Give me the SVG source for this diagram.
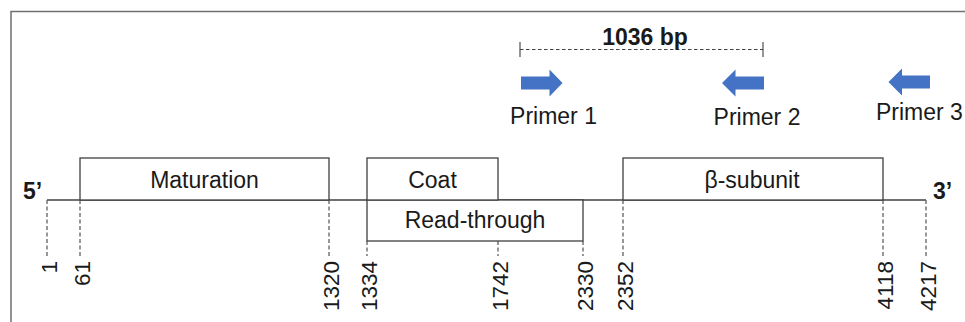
<svg xmlns="http://www.w3.org/2000/svg" width="965" height="322" viewBox="0 0 965 322">
<style>
.frame{fill:none;stroke:#707070;stroke-width:1.5}
.box{fill:#fff;stroke:#404040;stroke-width:1.3}
.base{stroke:#404040;stroke-width:1.3;fill:none}
.tick{stroke:#606060;stroke-width:1.3;stroke-dasharray:4 2.5;fill:none}
.dim{stroke:#404040;stroke-width:1.1;stroke-dasharray:3.5 2.5;fill:none}
.endt{stroke:#404040;stroke-width:1.1;fill:none}
.lbl{font-family:"Liberation Sans",Arial,sans-serif;font-size:23px;fill:#1a1a1a}
.num{font-family:"Liberation Sans",Arial,sans-serif;font-size:22.5px;fill:#1a1a1a;text-anchor:end}
.bold{font-family:"Liberation Sans",Arial,sans-serif;font-size:23px;font-weight:bold;fill:#1a1a1a}
.arrow{fill:#4472C4}
</style>
<rect width="965" height="322" fill="#fff"/>
<rect class="frame" x="11" y="11.5" width="1000" height="400"/>
<g id="connectors">
  <line class="base" x1="47" y1="200" x2="926" y2="200"/>
  <path class="tick" d="M47 200V256M80 200V256M329 200V256M367 241V256M498 241V256M583 241V256M623 200V256M883 200V256M926 200V256"/>
  <line class="dim" x1="520" y1="49.5" x2="763" y2="49.5"/>
  <path class="endt" d="M520 42V57M763 42V57"/>
</g>
<g id="end5"><text class="bold" x="23" y="199">5’</text></g>
<g id="end3"><text class="bold" x="933" y="199">3’</text></g>
<g id="maturation">
  <rect class="box" x="80" y="158" width="249" height="42"/>
  <text class="lbl" x="204.5" y="188" text-anchor="middle">Maturation</text>
</g>
<g id="readthrough">
  <rect class="box" x="367" y="200" width="216" height="41"/>
  <text class="lbl" x="475" y="228" text-anchor="middle">Read-through</text>
</g>
<g id="coat">
  <rect class="box" x="367" y="158" width="131" height="42"/>
  <text class="lbl" x="432.5" y="188" text-anchor="middle">Coat</text>
</g>
<g id="beta">
  <rect class="box" x="623" y="158" width="260" height="42"/>
  <text class="lbl" x="752" y="188" text-anchor="middle">β-subunit</text>
</g>
<g id="positions">
  <text class="num" transform="translate(57,261) rotate(-90)">1</text>
  <text class="num" transform="translate(90,261) rotate(-90)">61</text>
  <text class="num" transform="translate(339,261) rotate(-90)">1320</text>
  <text class="num" transform="translate(377,261) rotate(-90)">1334</text>
  <text class="num" transform="translate(508,261) rotate(-90)">1742</text>
  <text class="num" transform="translate(593,261) rotate(-90)">2330</text>
  <text class="num" transform="translate(633,261) rotate(-90)">2352</text>
  <text class="num" transform="translate(893,261) rotate(-90)">4118</text>
  <text class="num" transform="translate(936,261) rotate(-90)">4217</text>
</g>
<g id="size"><text class="bold" x="645" y="45" text-anchor="middle">1036 bp</text></g>
<g id="primer1">
  <path class="arrow" d="M521 76.5H549.5V69.5L562.5 83L549.5 96.5V89.5H521Z"/>
  <text class="lbl" x="553.5" y="124" text-anchor="middle">Primer 1</text>
</g>
<g id="primer2">
  <path class="arrow" d="M764 76.5H735.5V69.5L722 83L735.5 96.5V89.5H764Z"/>
  <text class="lbl" x="757" y="125" text-anchor="middle">Primer 2</text>
</g>
<g id="primer3">
  <path class="arrow" d="M930 75.5H902V68.5L888.5 82L902 95.5V88.5H930Z"/>
  <text class="lbl" x="876" y="120">Primer 3</text>
</g>
</svg>
